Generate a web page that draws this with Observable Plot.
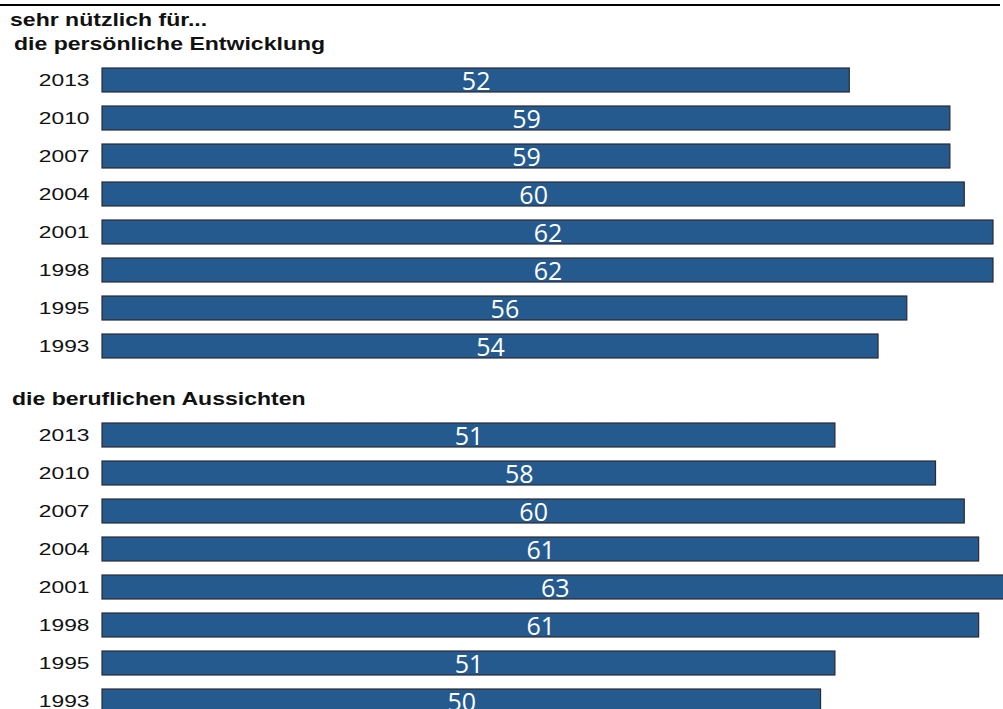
<!DOCTYPE html>
<html>
<head>
<meta charset="utf-8">
<script src="https://cdn.jsdelivr.net/npm/d3@7"></script>
<script src="https://cdn.jsdelivr.net/npm/@observablehq/plot@0.6"></script>
<style>
  html, body { margin: 0; padding: 0; background: #fff; overflow: hidden; width: 1003px; height: 709px; }
  .hdr { position: absolute; font: bold 18px "Liberation Sans", Arial, sans-serif; line-height: 18px; color: #111; transform: scaleX(1.28); transform-origin: 0 0; white-space: nowrap; }
  .rule { position: absolute; left: 0; top: 4px; width: 1000px; height: 1.5px; background: #000; }
  .panel { position: absolute; left: 0; }
</style>
</head>
<body>
<div class="rule"></div>
<div class="hdr" id="h0" style="left:10px; top:11px;"></div>
<div class="hdr" id="h1" style="left:14px; top:35px;"></div>
<div class="hdr" id="h2" style="left:12px; top:390px;"></div>
<div class="panel" id="p1" style="top:61px;"></div>
<div class="panel" id="p2" style="top:416px;"></div>
<script>
const headerTitle = "sehr nützlich für...";
const panelTitles = ["die persönliche Entwicklung", "die beruflichen Aussichten"];
const years = ["2013", "2010", "2007", "2004", "2001", "1998", "1995", "1993"];
const persoenlich = [52, 59, 59, 60, 62, 62, 56, 54];
const beruflich = [51, 58, 60, 61, 63, 61, 51, 50];

document.getElementById("h0").textContent = headerTitle;
document.getElementById("h1").textContent = panelTitles[0];
document.getElementById("h2").textContent = panelTitles[1];

function panel(values, el) {
  const data = years.map((y, i) => ({year: y, value: values[i]}));
  const chart = Plot.plot({
    width: 1003,
    height: 304,
    marginLeft: 102,
    marginRight: 10,
    marginTop: 0,
    marginBottom: 0,
    style: {background: "transparent", overflow: "visible"},
    x: {domain: [0, 62], axis: null},
    y: {domain: years, paddingInner: 0.368, paddingOuter: 0.184, tickSize: 0, tickPadding: 13, label: null, fontSize: 16},
    marks: [
      Plot.barX(data, {y: "year", x: "value", fill: "#255a8f", stroke: "#2a2a33", strokeWidth: 1.2}),
      Plot.text(data, {y: "year", x: d => d.value / 2, text: d => String(d.value), fill: "#fff", fontSize: 25, fontFamily: "'Open Sans', sans-serif", dy: 1})
    ]
  });
  el.appendChild(chart);
  chart.querySelectorAll('g[aria-label="y-axis tick label"] text').forEach(t => {
    t.style.fontFamily = "'Liberation Sans', Arial, sans-serif";
    t.style.fontSize = "16.5px";
    t.setAttribute("fill", "#111");
    const w = t.getComputedTextLength();
    t.setAttribute("textLength", (w * 1.38).toFixed(1));
    t.setAttribute("lengthAdjust", "spacingAndGlyphs");
  });
  chart.setAttribute("font-family", "'Liberation Sans', Arial, sans-serif");
}
panel(persoenlich, document.getElementById("p1"));
panel(beruflich, document.getElementById("p2"));
</script>
</body>
</html>
